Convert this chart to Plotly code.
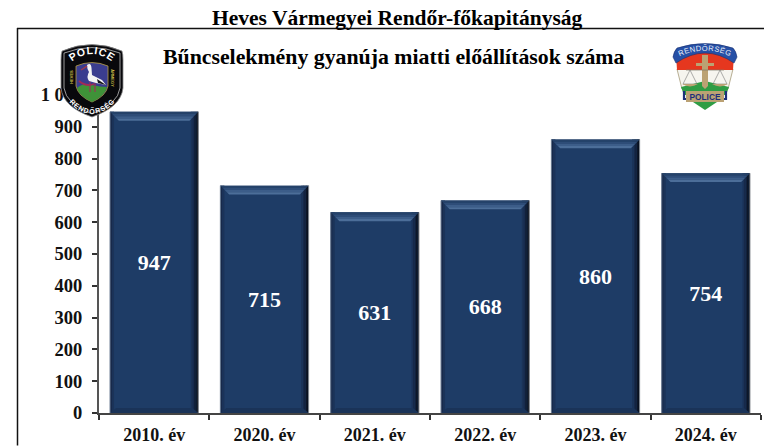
import base64
import plotly.graph_objects as go

categories = ["2010. év", "2020. év", "2021. év", "2022. év", "2023. év", "2024. év"]
values = [947, 715, 631, 668, 860, 754]
y_ticks = [0, 100, 200, 300, 400, 500, 600, 700, 800, 900, 1000]
y_labels = ["0", "100", "200", "300", "400", "500", "600", "700", "800", "900", "1 000"]
page_title = "Heves Vármegyei Rendőr-főkapitányság"
chart_title = "Bűncselekmény gyanúja miatti előállítások száma"

W, H = 764, 446
L, R, T, B = 99, 3, 95, 32.5
PW, PH = W - L - R, H - T - B
BAR = "#1E3C66"
FONT = "Liberation Serif"
GAP = 0.2
HALF = (1 - GAP) / 2


def px(x):
    return (x - L) / PW


def py(y):
    return (H - B - y) / PH


def uri(svg):
    return "data:image/svg+xml;base64," + base64.b64encode(svg.encode("utf-8")).decode()


left_logo = """<svg xmlns="http://www.w3.org/2000/svg" viewBox="0 0 64 76" width="64" height="76">
<defs>
<path id="t" d="M9 22 Q32 2 55 22"/>
<path id="b" d="M7 50 Q32 84 57 50"/>
<path id="l" d="M13 44 L13 26"/>
<path id="r" d="M51 26 L51 46"/>
</defs>
<path d="M2 9 Q32 -4 62 9 Q63 12 63 18 L63 46 Q61 65 32 75 Q3 65 1 46 L1 18 Q1 12 2 9 Z" fill="#08080c" stroke="#8a8a8a" stroke-width="0.8"/>
<path d="M4 11 Q32 0 60 11 L60 46 Q58 62 32 72 Q6 62 4 46 Z" fill="none" stroke="#d8d8d8" stroke-width="0.7"/>
<path d="M16 24 Q32 17 48 24 L48 44 Q46 54 32 60 Q18 54 16 44 Z" fill="#3a3d8f" stroke="#b9a040" stroke-width="0.8"/>
<path d="M17 46 Q24 40 32 43 Q40 45 47 45 Q45 54 32 60 Q19 54 17 46 Z" fill="#3f9238"/>
<path d="M27 23 Q31 20 31.5 26 L32 33 L42 38 L46 43 L36 41 L29 39 Q26 35 29 30 Q27 27 27 23Z" fill="#f4f4f4"/>
<path d="M37 37 L46 43 L38 41 Z" fill="#15151a"/>
<path d="M21 28 L27 24" stroke="#a23a4a" stroke-width="1.4"/>
<path d="M30 40 L30 50 M35 41 L35 50" stroke="#a32a55" stroke-width="1.1"/>
<path d="M19 39 Q26 45 34 42" stroke="#a32a55" stroke-width="1.8" fill="none"/>
<text font-family="Liberation Sans" font-weight="bold" font-size="10.5" fill="#fff" letter-spacing="0.8"><textPath href="#t" startOffset="50%" text-anchor="middle">POLICE</textPath></text>
<text font-family="Liberation Sans" font-weight="bold" font-size="7" fill="#fff"><textPath href="#b" startOffset="50%" text-anchor="middle" dominant-baseline="hanging">RENDŐRSÉG</textPath></text>
<text font-family="Liberation Sans" font-weight="bold" font-size="4" fill="#d8c24a"><textPath href="#l" startOffset="50%" text-anchor="middle">HEVES</textPath></text>
<text font-family="Liberation Sans" font-weight="bold" font-size="4" fill="#d8c24a"><textPath href="#r" startOffset="50%" text-anchor="middle">VÁRMEGYE</textPath></text>
</svg>"""

right_logo = """<svg xmlns="http://www.w3.org/2000/svg" viewBox="0 0 66 68" width="66" height="68">
<defs><path id="u" d="M6 14 Q33 1 60 14"/></defs>
<path d="M5 26 L10 46 L56 46 L61 26 Z" fill="#f6f5ef" stroke="#a69a78" stroke-width="0.8"/>
<path d="M4 10 L62 10 L61 27 L5 27 Z" fill="#e5371f"/>
<path d="M1 14 Q2 8 5 5 Q33 -4 61 5 Q64 8 65 14 L62 20 Q33 0 4 20 Z" fill="#2650a6" stroke="#1a2f6e" stroke-width="0.6"/>
<path d="M9 44 L33 38 L57 44 L54 52 L12 52 Z" fill="#2f9d44"/>
<path d="M18 57 L48 57 L33 67 Z" fill="#2f9d44"/>
<path d="M30 12 L36 12 L36 20 L42 20 L42 23 L36 23 L36 43 L33 46 L30 43 L30 23 L24 23 L24 20 L30 20 Z" fill="#bba273"/>
<path d="M14 27 L52 27" stroke="#807a68" stroke-width="0.7"/>
<path d="M18 27 L11 41 L25 41 Z M48 27 L41 41 L55 41 Z" fill="none" stroke="#777" stroke-width="0.6"/>
<path d="M10 41 Q18 46 26 41 Z M40 41 Q48 46 56 41 Z" fill="#bba273"/>
<path d="M12 48 L12 56 L18 56 M54 48 L54 56 L48 56" fill="none" stroke="#1d2f7a" stroke-width="2.2"/>
<rect x="14" y="48" width="38" height="11" fill="#bba273"/>
<text font-family="Liberation Sans" font-size="9.5" font-weight="bold" fill="#1d2f7a" text-anchor="middle" x="33" y="57.5" textLength="31" lengthAdjust="spacingAndGlyphs">POLICE</text>
<text font-family="Liberation Sans" font-size="7.6" fill="#e8ecf8" letter-spacing="0.4"><textPath href="#u" startOffset="50%" text-anchor="middle">RENDŐRSÉG</textPath></text>
</svg>"""

shapes = [
    dict(type="line", xref="paper", yref="paper", x0=px(17), x1=px(764), y0=py(28.5), y1=py(28.5),
         line=dict(color="#111", width=1.5)),
    dict(type="line", xref="paper", yref="paper", x0=px(17.5), x1=px(17.5), y0=py(28), y1=py(446),
         line=dict(color="#111", width=1.5)),
]

unit_x = 1 / (PW / len(categories))
unit_y = 1000 / PH


def poly(points, color):
    d = "M" + " L".join(f"{a:.4f},{b:.3f}" for a, b in points) + " Z"
    return dict(type="path", path=d, xref="x", yref="y", fillcolor=color,
                line=dict(width=0), layer="above")


for i, v in enumerate(values):
    x0, x1 = i - HALF, i + HALF
    for k, col in enumerate(["#070C16", "#0C1628", "#12213B", "#17294A", "#1B3358"]):
        e = k * unit_x * 1.5
        shapes.append(poly([(x1 - e - 1.5 * unit_x, 0), (x1 - e, 0), (x1 - e, v), (x1 - e - 1.5 * unit_x, v)], col))
    for k, col in enumerate(["#17294A", "#1B3358"]):
        e = k * unit_x * 2
        shapes.append(poly([(x0 + e, 0), (x0 + e + 2 * unit_x, 0), (x0 + e + 2 * unit_x, v), (x0 + e, v)], col))
    for k, col in enumerate(["#254269", "#2E4D78", "#3C5D89", "#4C6E99"]):
        a, b = k * 2.2, (k + 1) * 2.2
        shapes.append(poly([
            (x0 + a * unit_x, v - a * unit_y), (x1 - a * unit_x, v - a * unit_y),
            (x1 - b * unit_x, v - b * unit_y), (x0 + b * unit_x, v - b * unit_y)], col))
    shapes.append(poly([(x0, 0), (x1, 0), (x1 - 6 * unit_x, 5 * unit_y), (x0 + 6 * unit_x, 5 * unit_y)], "#1A3358"))
    shapes.append(dict(type="line", xref="x", yref="y", x0=x1, x1=x1, y0=0, y1=v,
                       line=dict(color="#8A8F96", width=1), layer="above"))
    shapes.append(dict(type="line", xref="x", yref="y", x0=x0, x1=x0, y0=0, y1=v,
                       line=dict(color="#6F7F95", width=1), layer="above"))

fig = go.Figure(go.Bar(
    x=categories, y=values, text=[str(v) for v in values], textposition="inside",
    insidetextanchor="middle", constraintext="none", textangle=0,
    textfont=dict(family=FONT, size=22, color="white", weight="bold"),
    marker=dict(color=BAR, line=dict(width=0)), cliponaxis=False, hoverinfo="skip",
))

fig.update_layout(
    width=W, height=H, margin=dict(l=L, r=R, t=T, b=B, pad=0, autoexpand=False),
    paper_bgcolor="white", plot_bgcolor="white", bargap=GAP, showlegend=False,
    font=dict(family=FONT, color="#111"), shapes=shapes,
    annotations=[
        dict(text=f"<b>{page_title}</b>", xref="paper", yref="paper", x=px(397), y=py(18),
             xanchor="center", yanchor="middle", showarrow=False, font=dict(size=21.5, color="#000")),
        dict(text=f"<b>{chart_title}</b>", xref="paper", yref="paper", x=px(393), y=py(57),
             xanchor="center", yanchor="middle", showarrow=False, font=dict(size=21.8, color="#000")),
    ],
    images=[
        dict(source=uri(left_logo), xref="paper", yref="paper", x=px(60), y=py(42),
             sizex=64 / PW, sizey=76 / PH, xanchor="left", yanchor="top", sizing="stretch", layer="above"),
        dict(source=uri(right_logo), xref="paper", yref="paper", x=px(672), y=py(43),
             sizex=66 / PW, sizey=68 / PH, xanchor="left", yanchor="top", sizing="stretch", layer="above"),
    ],
)
fig.update_xaxes(
    type="category", categoryorder="array", categoryarray=categories, tickson="boundaries",
    ticks="outside", ticklen=5, tickwidth=1.5, tickcolor="#333", showgrid=False, zeroline=False,
    showline=True, linecolor="#444", linewidth=2, ticklabelstandoff=4, automargin=False,
    tickfont=dict(family=FONT, size=18, color="#111", weight="bold"),
)
fig.update_yaxes(
    range=[0, 1000], tickvals=y_ticks, ticktext=y_labels, ticks="outside", ticklen=5, automargin=False,
    tickwidth=1.5, tickcolor="#333", showgrid=False, zeroline=False, showline=True, ticklabelstandoff=6,
    linecolor="#555", linewidth=2, tickfont=dict(family=FONT, size=18.5, color="#111", weight="bold"),
)
fig.write_html("out.html", config=dict(displayModeBar=False),
               post_script="document.body.style.margin='0';")
